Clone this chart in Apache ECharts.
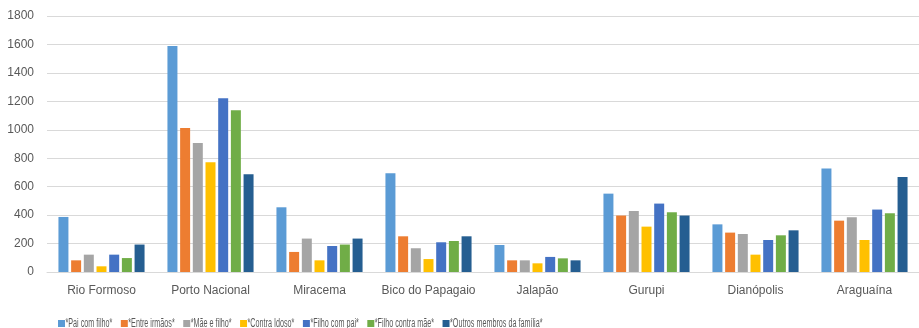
<!DOCTYPE html>
<html><head><meta charset="utf-8">
<script src="https://cdn.jsdelivr.net/npm/echarts@6/dist/echarts.min.js"></script>
<style>html,body{margin:0;padding:0;background:#fff}#c{width:919px;height:328px}</style>
</head><body><div id="c"></div>
<script>
const categories = ["Rio Formoso","Porto Nacional","Miracema","Bico do Papagaio","Jalapão","Gurupi","Dianópolis","Araguaína"];
const seriesNames = ["*Pai com filho*","*Entre irmãos*","*Mãe e filho*","*Contra Idoso*","*Filho com pai*","*Filho contra mãe*","*Outros membros da família*"];
const paiComFilho    = [387,1589,455,694,190,551,335,727];
const entreIrmaos    = [82,1013,141,251,82,397,277,361];
const maeEFilho      = [122,907,235,167,82,429,267,385];
const contraIdoso    = [40,771,82,91,61,319,122,225];
const filhoComPai    = [122,1221,183,209,106,481,225,439];
const filhoContraMae = [98,1137,193,218,96,420,258,413];
const outrosMembros  = [193,687,235,251,82,397,293,668];
const yTicks = [0,200,400,600,800,1000,1200,1400,1600,1800];

const seriesData = [paiComFilho,entreIrmaos,maeEFilho,contraIdoso,filhoComPai,filhoContraMae,outrosMembros];
const colors = ["#5B9BD5","#ED7D31","#A5A5A5","#FFC000","#4472C4","#70AD47","#255E91"];
const FONT = "Liberation Sans";

// legend built as graphic (horizontally condensed text like the reference)
const ctx = document.createElement('canvas').getContext('2d');
ctx.font = "12px " + FONT;
const squeeze = 0.6;
const legendGraphics = [];
let lx = 58;
seriesNames.forEach((n,i)=>{
  legendGraphics.push({type:'rect', x:lx, y:320, shape:{x:0,y:0,width:7,height:7}, style:{fill:colors[i]}, silent:true});
  legendGraphics.push({type:'text', x:lx+7.5, y:323.5, scaleX:squeeze, scaleY:1,
    style:{text:n, fill:'#595959', fontSize:12, fontFamily:FONT, verticalAlign:'middle', align:'left'}, silent:true});
  lx += 7.5 + ctx.measureText(n).width*squeeze + 8.5;
});

const chart = echarts.init(document.getElementById('c'));
chart.setOption({
  animation:false,
  color: colors,
  textStyle:{fontFamily:FONT},
  grid:{left:47,top:16,width:875,height:256,containLabel:false},
  graphic: legendGraphics,
  xAxis:{
    type:'category', data:categories,
    axisLine:{lineStyle:{color:'#D9D9D9',width:1}},
    axisTick:{show:false},
    axisLabel:{color:'#595959',fontSize:12,margin:13,interval:0}
  },
  yAxis:{
    type:'value', min:yTicks[0], max:yTicks[yTicks.length-1], interval:200,
    axisLine:{show:false}, axisTick:{show:false},
    splitLine:{lineStyle:{color:'#D9D9D9',width:1}},
    axisLabel:{color:'#595959',fontSize:12,margin:13,formatter:v=>String(v)}
  },
  series: seriesNames.map((n,i)=>({
    name:n, type:'bar', data:seriesData[i],
    barGap:'27%', barCategoryGap:'21%'
  }))
});
</script></body></html>
